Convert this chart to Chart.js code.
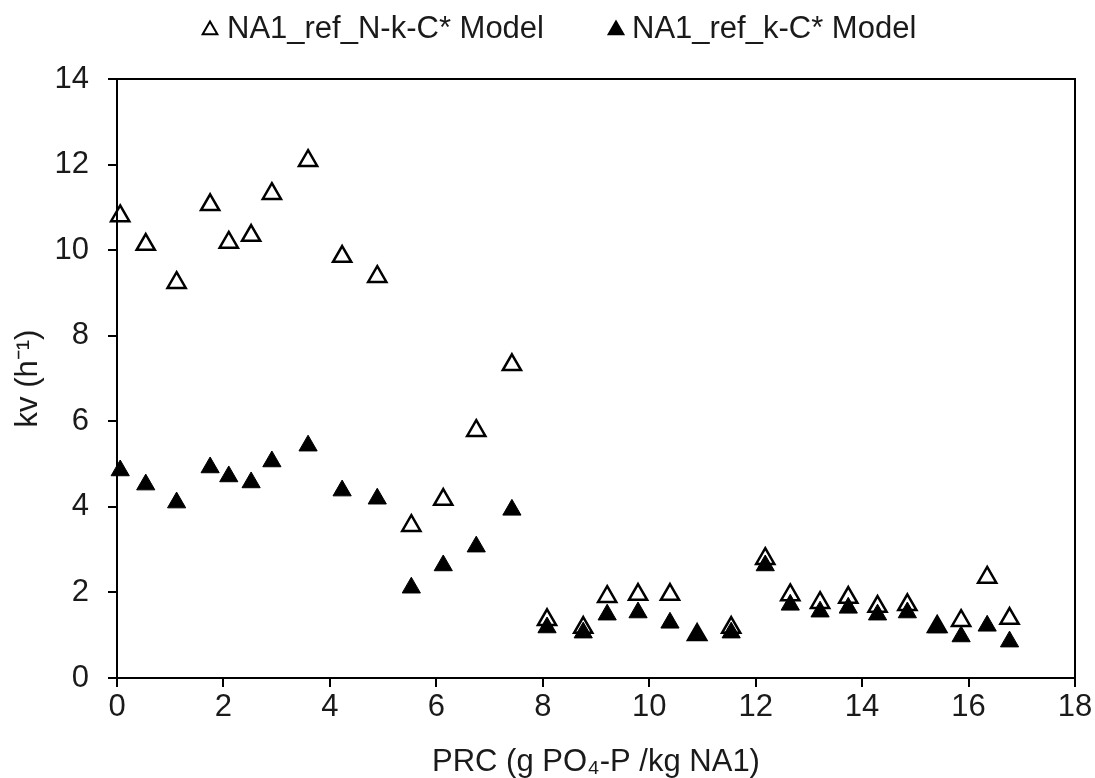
<!DOCTYPE html>
<html>
<head>
<meta charset="utf-8">
<script src="https://cdn.jsdelivr.net/npm/chart.js@4.4.1/dist/chart.umd.min.js"></script>
<style>
  html, body { margin: 0; padding: 0; background: #fff; }
  #wrap { width: 1095px; height: 778px; position: relative; }
</style>
</head>
<body>
<div id="wrap"><canvas id="chart"></canvas></div>
<script>
/* =========================
   DATOS
========================= */

const prc = [0.06, 0.54, 1.12, 1.75, 2.10, 2.52, 2.91, 3.59, 4.23, 4.89,
  5.53, 6.13, 6.75, 7.42, 8.08, 8.76, 9.21, 9.79, 10.39, 10.90,
  11.54, 12.18, 12.65, 13.21, 13.74, 14.29, 14.85, 15.41, 15.86, 16.35, 16.77];

const kvNkC = [10.80, 10.13, 9.24, 11.06, 10.18, 10.34, 11.32, 12.09, 9.85, 9.38,
  3.56, 4.17, 5.78, 7.32, 1.36, 1.18, 1.90, 1.95, 1.95, 1.01,
  1.18, 2.79, 1.94, 1.76, 1.88, 1.67, 1.71, 1.20, 1.34, 2.35, 1.39];

const kvkC = [4.85, 4.52, 4.10, 4.92, 4.71, 4.57, 5.06, 5.43, 4.38, 4.19,
  2.11, 2.63, 3.07, 3.93, 1.18, 1.06, 1.48, 1.53, 1.29, 1.01,
  1.06, 2.63, 1.71, 1.55, 1.64, 1.48, 1.53, 1.18, 0.97, 1.22, 0.85];

const seriesNames = ["NA1_ref_N-k-C* Model", "NA1_ref_k-C* Model"];
const xTitle = "PRC (g PO\u2084-P /kg NA1)";
const yTitle = "kv (h\u207B\u00B9)";

/* =========================
   ESTILO
========================= */

const FONT = '"Liberation Sans", Arial, sans-serif';
const TXT = "#1a1a1a";

const toPts = vals => vals.map((v, i) => ({ x: prc[i], y: v }));

/* marco del area + leyenda propia */
const framePlugin = {
  id: "frame",
  afterDraw(chart) {
    const { ctx, chartArea: a } = chart;
    ctx.save();
    ctx.strokeStyle = "#000";
    ctx.lineWidth = 2;
    ctx.strokeRect(a.left, a.top, a.right - a.left, a.bottom - a.top);

    ctx.font = "31px " + FONT;
    ctx.fillStyle = TXT;
    ctx.textBaseline = "middle";
    ctx.textAlign = "left";

    const items = [
      { mx: 210, tx: 227, fill: "#fff", bw: 1.8 },
      { mx: 616, tx: 632, fill: "#000", bw: 1 }
    ];
    items.forEach((it, i) => {
      ctx.fillStyle = it.fill;
      ctx.strokeStyle = "#000";
      Chart.helpers.drawPoint(ctx, { pointStyle: "triangle", radius: 8.5, borderWidth: it.bw, rotation: 0 }, it.mx, 30);
      ctx.fillStyle = TXT;
      ctx.fillText(seriesNames[i], it.tx, 29);
    });
    ctx.restore();
  }
};

new Chart(document.getElementById("chart"), {
  type: "scatter",
  data: {
    datasets: [
      {
        label: seriesNames[0],
        data: toPts(kvNkC),
        pointStyle: "triangle",
        pointRadius: 10.5,
        pointHoverRadius: 10.5,
        backgroundColor: "#fff",
        borderColor: "#000",
        borderWidth: 2.5,
        clip: false,
        order: 1
      },
      {
        label: seriesNames[1],
        data: toPts(kvkC),
        pointStyle: "triangle",
        pointRadius: 10.5,
        pointHoverRadius: 10.5,
        backgroundColor: "#000",
        borderColor: "#000",
        borderWidth: 1,
        clip: false,
        order: 0
      }
    ]
  },
  options: {
    responsive: true,
    maintainAspectRatio: false,
    animation: false,
    devicePixelRatio: 1,
    layout: { padding: { top: 79, right: 20, left: 0, bottom: 0 } },
    plugins: {
      legend: { display: false },
      tooltip: { enabled: false }
    },
    scales: {
      x: {
        type: "linear",
        min: 0,
        max: 18,
        ticks: { stepSize: 2, color: TXT, font: { family: FONT, size: 31 }, padding: 2, maxRotation: 0 },
        grid: { drawOnChartArea: false, drawTicks: true, tickLength: 9, color: "#000", lineWidth: 2 },
        border: { display: true, color: "#000", width: 2 },
        title: { display: true, text: xTitle, color: TXT, font: { family: FONT, size: 31, lineHeight: 1 }, padding: { top: 0, bottom: 0 } },
        afterFit(scale) { scale.height = 100; }
      },
      y: {
        min: 0,
        max: 14,
        ticks: { stepSize: 2, color: TXT, font: { family: FONT, size: 31 }, padding: 19 },
        grid: { drawOnChartArea: false, drawTicks: true, tickLength: 9, color: "#000", lineWidth: 2 },
        border: { display: true, color: "#000", width: 2 },
        title: { display: true, text: yTitle, color: TXT, font: { family: FONT, size: 31 }, padding: { top: 10, bottom: 0 } },
        afterFit(scale) { scale.width = 117; }
      }
    }
  },
  plugins: [framePlugin]
});
</script>
</body>
</html>
